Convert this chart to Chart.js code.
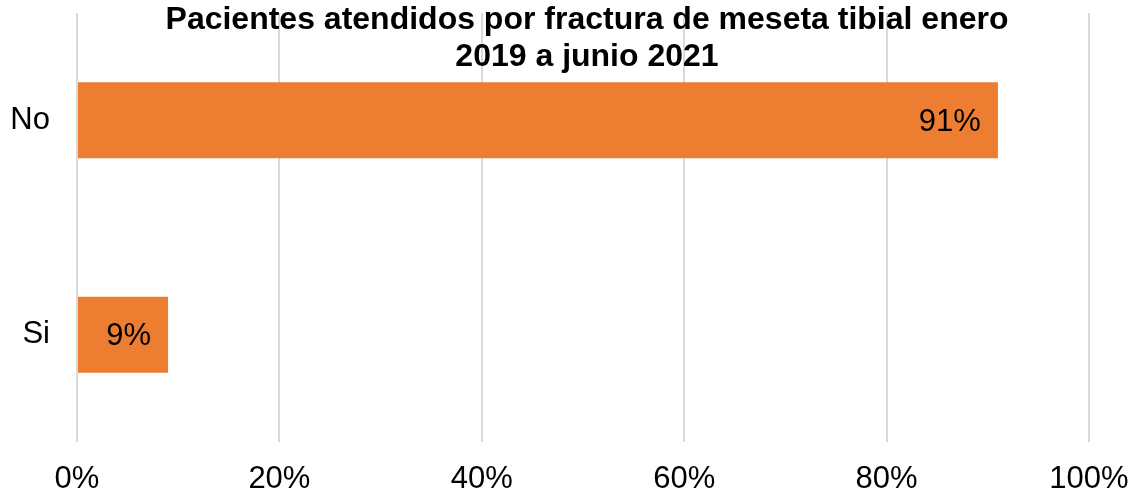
<!DOCTYPE html>
<html>
<head>
<meta charset="utf-8">
<script src="https://cdn.jsdelivr.net/npm/chart.js@4"></script>
<style>
  html, body { margin: 0; padding: 0; background: #fff; }
  #wrap { width: 1133px; height: 494px; }
</style>
</head>
<body>
<div id="wrap"><canvas id="fracturaChart"></canvas></div>
<script>
Chart.defaults.font.family = '"Liberation Sans", Arial, sans-serif';
Chart.defaults.color = '#000';

// Datos del gráfico
const categorias = ['No', 'Si'];
const porcentajes = [91, 9];
const tituloLineas = ['Pacientes atendidos por fractura de meseta tibial enero', '2019 a junio 2021'];

// Etiquetas de valor dentro del extremo de cada barra
const etiquetasValor = {
    id: 'etiquetasValor',
    afterDatasetsDraw(chart) {
        const ctx = chart.ctx;
        const meta = chart.getDatasetMeta(0);
        ctx.save();
        ctx.font = '31px "Liberation Sans", Arial, sans-serif';
        ctx.fillStyle = '#000';
        ctx.textAlign = 'right';
        ctx.textBaseline = 'middle';
        meta.data.forEach((bar, i) => {
            ctx.fillText(porcentajes[i] + '%', bar.x - 17, bar.y + 2);
        });
        ctx.restore();
    }
};

// Título en dos líneas, dibujado sobre el área del gráfico
const tituloGrafico = {
    id: 'tituloGrafico',
    afterDraw(chart) {
        const ctx = chart.ctx;
        const area = chart.chartArea;
        const cx = (area.left + area.right) / 2 + 4;
        ctx.save();
        ctx.font = 'bold 32px "Liberation Sans", Arial, sans-serif';
        ctx.fillStyle = '#000';
        ctx.textAlign = 'center';
        ctx.textBaseline = 'alphabetic';
        ctx.fillText(tituloLineas[0], cx, 29);
        ctx.fillText(tituloLineas[1], cx, 66);
        ctx.restore();
    }
};

const ctx = document.getElementById('fracturaChart').getContext('2d');
const fracturaChart = new Chart(ctx, {
    type: 'bar',
    data: {
        labels: categorias,
        datasets: [{
            data: porcentajes,
            backgroundColor: '#ED7D31',
            borderWidth: 0,
            categoryPercentage: 1,
            barPercentage: 0.355
        }]
    },
    options: {
        indexAxis: 'y',
        responsive: true,
        maintainAspectRatio: false,
        animation: false,
        layout: {
            padding: { top: 13, right: 44, left: 0, bottom: 0 }
        },
        scales: {
            x: {
                min: 0,
                max: 100,
                ticks: {
                    stepSize: 20,
                    padding: 19,
                    font: { size: 31 },
                    color: '#000',
                    callback: (v) => v + '%'
                },
                grid: {
                    color: '#D9D9D9',
                    lineWidth: 2,
                    drawTicks: false
                },
                border: { display: false },
                afterFit(scale) {
                    scale.height = 52;
                    scale.paddingLeft = 0;
                    scale.paddingRight = 0;
                }
            },
            y: {
                ticks: {
                    padding: 27,
                    font: { size: 31 },
                    color: '#000'
                },
                grid: { display: false, drawTicks: false },
                border: { display: false },
                afterFit(scale) {
                    scale.width = 77;
                    scale.paddingTop = 0;
                    scale.paddingBottom = 0;
                }
            }
        },
        plugins: {
            legend: { display: false },
            title: { display: false },
            tooltip: { enabled: false }
        }
    },
    plugins: [etiquetasValor, tituloGrafico]
});
</script>
</body>
</html>
